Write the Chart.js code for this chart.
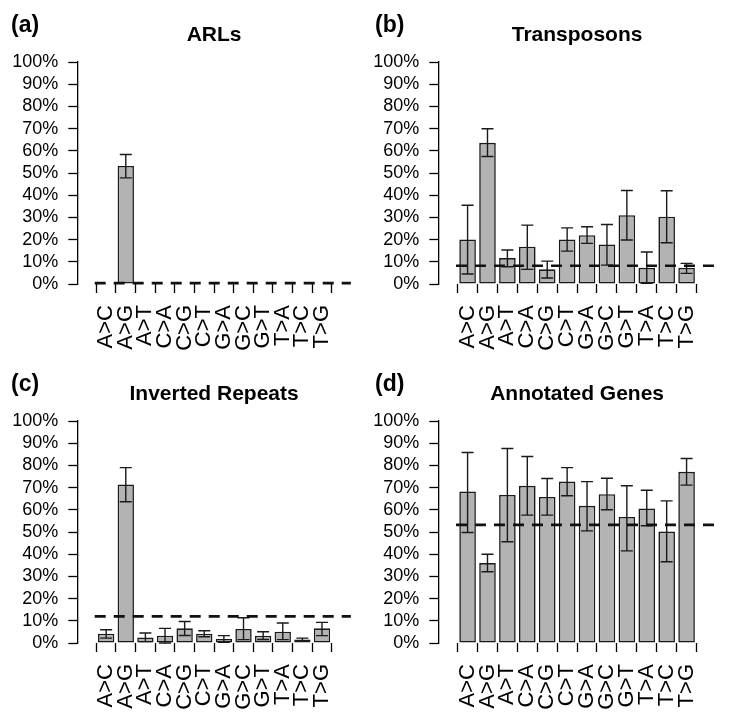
<!DOCTYPE html>
<html><head><meta charset="utf-8">
<script src="https://cdn.jsdelivr.net/npm/chart.js@4.4.0/dist/chart.umd.min.js"></script>
<style>
html,body{margin:0;padding:0;background:#fff;width:729px;height:718px;overflow:hidden;}
canvas{position:absolute;display:block;}
</style></head><body>
<canvas id="ca" width="361" height="359" style="left:0;top:0"></canvas>
<canvas id="cb" width="365" height="359" style="left:361px;top:0"></canvas>
<canvas id="cc" width="361" height="359" style="left:0;top:359px"></canvas>
<canvas id="cd" width="365" height="359" style="left:361px;top:359px"></canvas>
<script>
// ---------- data ----------
const categories = ['A>C','A>G','A>T','C>A','C>G','C>T','G>A','G>C','G>T','T>A','T>C','T>G'];
const yTicks = [0,10,20,30,40,50,60,70,80,90,100];

const arlsValues = [0, 53.2, 0, 0, 0, 0, 0, 0, 0, 0, 0, 0];
const arlsLow    = [null, 47.8, null, null, null, null, null, null, null, null, null, null];
const arlsHigh   = [null, 58.3, null, null, null, null, null, null, null, null, null, null];
const arlsBaseline = 0.4;

const transValues = [20.1, 63.6, 11.7, 16.8, 6.6, 20.1, 22.0, 17.8, 31.0, 7.3, 30.3, 7.3];
const transLow    = [4.5, 57.4, 7.8, 6.6, 2.7, 14.8, 18.3, 8.5, 19.8, 0.3, 18.6, 4.8];
const transHigh   = [35.5, 69.9, 15.3, 26.5, 10.3, 25.3, 25.8, 26.8, 42.1, 14.4, 42.0, 9.3];
const transBaseline = 8.2;

const invValues = [4.2, 71.4, 2.5, 3.3, 6.6, 4.2, 1.8, 6.3, 3.3, 5.1, 1.6, 6.6];
const invLow    = [2.2, 63.6, 0.6, 0.0, 3.4, 2.8, 0.3, 1.5, 1.6, 1.5, 1.0, 3.3];
const invHigh   = [6.0, 79.0, 4.5, 6.6, 9.7, 5.5, 3.3, 11.4, 5.1, 9.0, 2.2, 9.3];
const invBaseline = 12.0;

const geneValues = [68.2, 36.0, 66.7, 70.8, 65.8, 72.7, 61.8, 67.0, 56.8, 60.6, 50.2, 77.1];
const geneLow    = [49.8, 32.1, 45.6, 57.6, 57.6, 66.3, 50.5, 60.0, 41.5, 52.8, 36.6, 71.1];
const geneHigh   = [85.8, 40.0, 87.6, 84.0, 74.1, 79.0, 72.7, 74.2, 70.8, 68.8, 64.0, 83.1];
const geneBaseline = 53.2;

// ---------- helpers ----------
const FONT = "'Liberation Sans', Arial, Helvetica, sans-serif";
const barPos = i => 0.7 + 1.2 * i;   // R barplot positions (space = 0.2)

const panelDecor = {
  id: 'panelDecor',
  afterDatasetsDraw(chart, args, opts) {
    const ctx = chart.ctx, xs = chart.scales.x, ys = chart.scales.y;
    const ds = chart.data.datasets[0], meta = chart.getDatasetMeta(0);
    ctx.save();
    ctx.strokeStyle = '#1a1a1a';
    ctx.lineWidth = 1.4;
    meta.data.forEach((bar, i) => {
      const lo = ds.errLow[i], hi = ds.errHigh[i];
      if (lo == null || hi == null) return;
      const yl = ys.getPixelForValue(lo), yh = ys.getPixelForValue(hi);
      ctx.beginPath();
      ctx.moveTo(bar.x, yl); ctx.lineTo(bar.x, yh);
      ctx.moveTo(bar.x - opts.cap, yl); ctx.lineTo(bar.x + opts.cap, yl);
      ctx.moveTo(bar.x - opts.cap, yh); ctx.lineTo(bar.x + opts.cap, yh);
      ctx.stroke();
    });
    const ca = chart.chartArea;
    ctx.beginPath();
    ctx.rect(ca.left, ca.top - 10, ca.right - ca.left, ca.bottom - ca.top + 20);
    ctx.clip();
    ctx.setLineDash([11, 8]);
    ctx.lineWidth = 2.6;
    ctx.strokeStyle = '#111';
    const yb = ys.getPixelForValue(opts.baseline);
    ctx.beginPath();
    ctx.moveTo(xs.getPixelForValue(0), yb);
    ctx.lineTo(xs.right + 2, yb);
    ctx.stroke();
    ctx.restore();
  },
  afterDraw(chart, args, opts) {
    const ctx = chart.ctx, ca = chart.chartArea;
    ctx.save();
    ctx.fillStyle = '#000';
    ctx.textBaseline = 'alphabetic';
    ctx.font = 'bold 21px ' + FONT;
    ctx.textAlign = 'center';
    ctx.fillText(opts.title, (ca.left + ca.right) / 2, 41);
    ctx.font = 'bold 23px ' + FONT;
    ctx.textAlign = 'left';
    ctx.fillText(opts.letter, opts.letterX, 32);
    ctx.restore();
  }
};

function makePanel(id, letter, letterX, title, values, low, high, baseline, rightPad) {
  const data = values.map((v, i) => ({ x: barPos(i), y: v }));
  new Chart(document.getElementById(id), {
    type: 'bar',
    data: {
      datasets: [{
        data: data,
        errLow: low,
        errHigh: high,
        backgroundColor: '#b3b3b3',
        borderColor: '#1a1a1a',
        borderWidth: 1.6,
        borderSkipped: false,
        categoryPercentage: 1,
        barPercentage: 1 / 1.2
      }]
    },
    plugins: [panelDecor],
    options: {
      responsive: false,
      animation: false,
      events: [],
      layout: { padding: { top: 62, left: 0, right: rightPad, bottom: 0 } },
      plugins: {
        legend: { display: false },
        tooltip: { enabled: false },
        title: { display: false },
        panelDecor: { title: title, letter: letter, letterX: letterX, baseline: baseline, cap: 6 }
      },
      scales: {
        x: {
          type: 'linear',
          min: -0.368,
          max: 14.968,
          afterBuildTicks: s => { s.ticks = categories.map((c, i) => ({ value: barPos(i) })); },
          afterFit: s => { s.height = 75; },
          ticks: {
            autoSkip: false,
            maxRotation: 90,
            minRotation: 90,
            padding: 12,
            color: '#000',
            font: { family: FONT, size: 22 },
            callback: (v, i) => categories[i]
          },
          grid: { display: true, drawOnChartArea: false, drawTicks: true, tickLength: 9, tickColor: '#000', tickWidth: 1.3 },
          border: { display: false }
        },
        y: {
          min: 0,
          max: 100,
          afterBuildTicks: s => { s.ticks = yTicks.map(v => ({ value: v })); },
          afterFit: s => { s.width = 77.3; },
          ticks: {
            autoSkip: false,
            padding: 10,
            color: '#000',
            font: { family: FONT, size: 18 },
            callback: v => v + '%'
          },
          grid: { display: true, drawOnChartArea: false, drawTicks: true, tickLength: 9, tickColor: '#000', tickWidth: 1.3 },
          border: { display: true, color: '#000', width: 1.3 }
        }
      }
    }
  });
}

makePanel('ca', '(a)', 11, 'ARLs', arlsValues, arlsLow, arlsHigh, arlsBaseline, 5.7);
makePanel('cb', '(b)', 14, 'Transposons', transValues, transLow, transHigh, transBaseline, 9.7);
makePanel('cc', '(c)', 11, 'Inverted Repeats', invValues, invLow, invHigh, invBaseline, 5.7);
makePanel('cd', '(d)', 14, 'Annotated Genes', geneValues, geneLow, geneHigh, geneBaseline, 9.7);
</script>
</body></html>
